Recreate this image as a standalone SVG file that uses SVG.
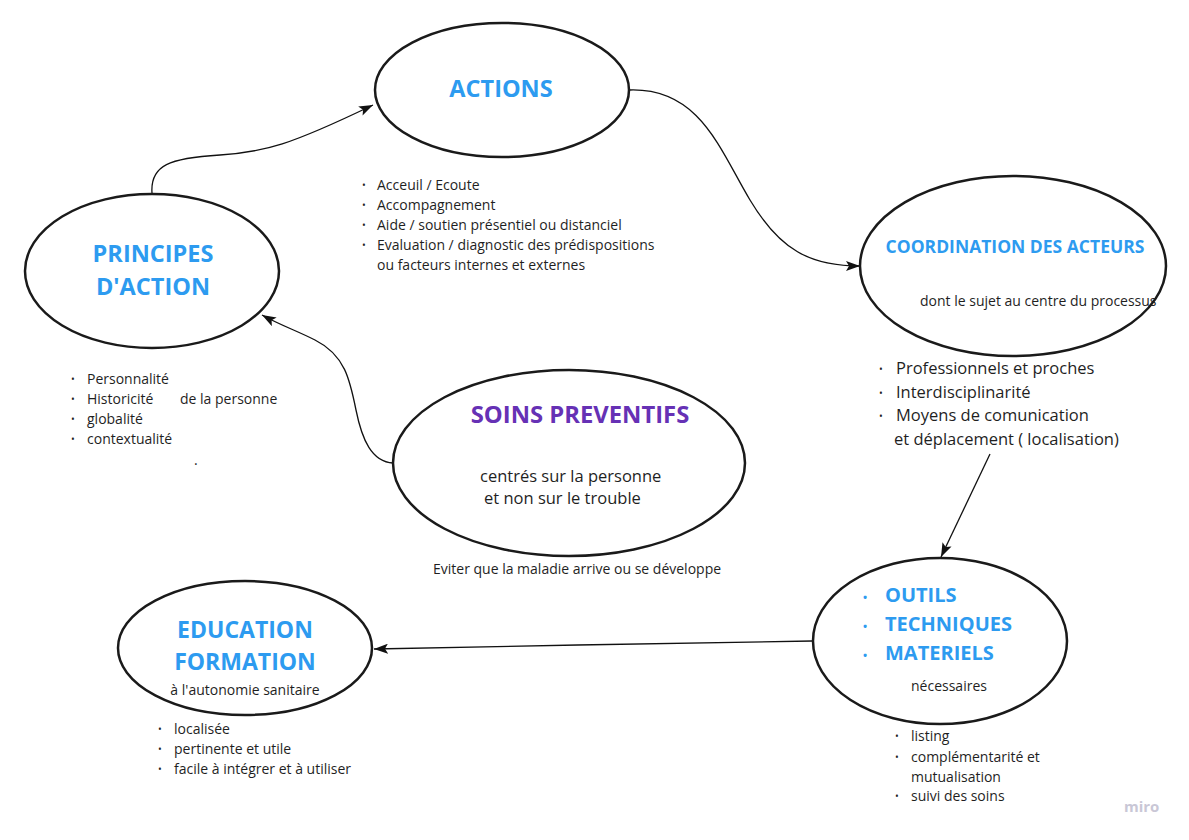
<svg xmlns="http://www.w3.org/2000/svg" width="1189" height="840" viewBox="0 0 1189 840">
<style>
.node{fill:#ffffff;stroke:#1a1a1a;stroke-width:2.5}
.t{font-family:"Open Sans","Liberation Sans",sans-serif;fill:#1f1f1f}
.h{font-family:"Open Sans","Liberation Sans",sans-serif;font-weight:bold;fill:#2d9bf0}
.p{font-family:"Open Sans","Liberation Sans",sans-serif;font-weight:bold;fill:#6631b5}
.b{font-family:"Open Sans","Liberation Sans",sans-serif;fill:#1f1f1f;font-size:10px}
.bb{font-family:"Open Sans","Liberation Sans",sans-serif;fill:#2d9bf0;font-size:11px;font-weight:bold}
.s13{font-size:14px}
.s16{font-size:16.5px}
.c{fill:none;stroke:#111111;stroke-width:1.3}
</style>
<defs>
<marker id="ah" viewBox="0 0 14 10" refX="14" refY="5" markerWidth="14" markerHeight="10" orient="auto" markerUnits="userSpaceOnUse">
<path d="M0,0 L14,5 L0,10 L3,5 z" fill="#111111"/>
</marker>
</defs>
<rect width="1189" height="840" fill="#ffffff"/>

<g id="connectors">
<path class="c" d="M152,193 C150,165 170,158 220,155 C265,152 290,145 373,105" marker-end="url(#ah)"/>
<path class="c" d="M630,90 C700,88 720,150 750,200 C780,250 810,266 860,266" marker-end="url(#ah)"/>
<path class="c" d="M990,454 L941,557" marker-end="url(#ah)"/>
<path class="c" d="M812,641 C700,643 500,646 374,649" marker-end="url(#ah)"/>
<path class="c" d="M393,463 C372,462 362,440 356,410 C350,380 345,355 315,340 C295,330 280,325 262,315" marker-end="url(#ah)"/>
</g>

<g id="actions">
<ellipse class="node" cx="502" cy="90" rx="127" ry="67"/>
<text class="h" x="501" y="97" font-size="23.5" text-anchor="middle">ACTIONS</text>
<text class="b" x="362" y="189">•</text>
<text class="b" x="362" y="209">•</text>
<text class="b" x="362" y="229">•</text>
<text class="b" x="362" y="249">•</text>
<text class="t s13" x="377" y="190">Acceuil / Ecoute</text>
<text class="t s13" x="377" y="210">Accompagnement</text>
<text class="t s13" x="377" y="230">Aide / soutien présentiel ou distanciel</text>
<text class="t s13" x="377" y="250">Evaluation / diagnostic des prédispositions</text>
<text class="t s13" x="377" y="270">ou facteurs internes et externes</text>
</g>

<g id="principes">
<ellipse class="node" cx="152" cy="271" rx="127" ry="77"/>
<text class="h" x="153" y="262" font-size="23.5" text-anchor="middle">PRINCIPES</text>
<text class="h" x="153" y="295" font-size="23.5" text-anchor="middle">D'ACTION</text>
<text class="b" x="71" y="383">•</text>
<text class="b" x="71" y="403">•</text>
<text class="b" x="71" y="423">•</text>
<text class="b" x="71" y="443">•</text>
<text class="t s13" x="87" y="384">Personnalité</text>
<text class="t s13" x="87" y="404">Historicité</text>
<text class="t s13" x="180" y="404">de la personne</text>
<text class="t s13" x="87" y="424">globalité</text>
<text class="t s13" x="87" y="444">contextualité</text>
<text class="t s13" x="194" y="465">.</text>
</g>

<g id="coordination">
<ellipse class="node" cx="1013" cy="266" rx="153" ry="90"/>
<text class="h" x="1015" y="253" font-size="17.5" text-anchor="middle">COORDINATION DES ACTEURS</text>
<text class="t" x="920" y="306" font-size="14">dont le sujet au centre du processus</text>
<text class="b" x="879" y="373">•</text>
<text class="b" x="879" y="397">•</text>
<text class="b" x="879" y="420">•</text>
<text class="t s16" x="896" y="374">Professionnels et proches</text>
<text class="t s16" x="896" y="398">Interdisciplinarité</text>
<text class="t s16" x="896" y="421">Moyens de comunication</text>
<text class="t s16" x="894" y="445">et déplacement ( localisation)</text>
</g>

<g id="soins">
<ellipse class="node" cx="569" cy="463" rx="176" ry="93"/>
<text class="p" x="580" y="423" font-size="23.8" text-anchor="middle">SOINS PREVENTIFS</text>
<text class="t s16" x="480" y="482">centrés sur la personne</text>
<text class="t s16" x="484" y="504">et non sur le trouble</text>
<text class="t" x="433" y="574" font-size="14">Eviter que la maladie arrive ou se développe</text>
</g>

<g id="outils">
<ellipse class="node" cx="940" cy="641" rx="127" ry="83"/>
<text class="bb" x="863" y="601">•</text>
<text class="bb" x="863" y="630">•</text>
<text class="bb" x="863" y="659">•</text>
<text class="h" x="885" y="602" font-size="20">OUTILS</text>
<text class="h" x="885" y="631" font-size="20">TECHNIQUES</text>
<text class="h" x="885" y="660" font-size="20">MATERIELS</text>
<text class="t s13" x="911" y="691">nécessaires</text>
<text class="b" x="895" y="740">•</text>
<text class="b" x="895" y="761">•</text>
<text class="b" x="895" y="800">•</text>
<text class="t s13" x="911" y="741">listing</text>
<text class="t s13" x="911" y="762">complémentarité et</text>
<text class="t s13" x="911" y="782">mutualisation</text>
<text class="t s13" x="911" y="801">suivi des soins</text>
</g>

<g id="education">
<ellipse class="node" cx="245" cy="648" rx="127" ry="67"/>
<text class="h" x="245" y="638" font-size="23" text-anchor="middle">EDUCATION</text>
<text class="h" x="245" y="670" font-size="23" text-anchor="middle">FORMATION</text>
<text class="t s13" x="245" y="695" text-anchor="middle">à l'autonomie sanitaire</text>
<text class="b" x="158" y="733">•</text>
<text class="b" x="158" y="753">•</text>
<text class="b" x="158" y="773">•</text>
<text class="t s13" x="174" y="734">localisée</text>
<text class="t s13" x="174" y="754">pertinente et utile</text>
<text class="t s13" x="174" y="774">facile à intégrer et à utiliser</text>
</g>

<text x="1124" y="812" font-family="Open Sans, Liberation Sans, sans-serif" font-size="15" font-weight="bold" fill="#c9c7d6">miro</text>
</svg>
